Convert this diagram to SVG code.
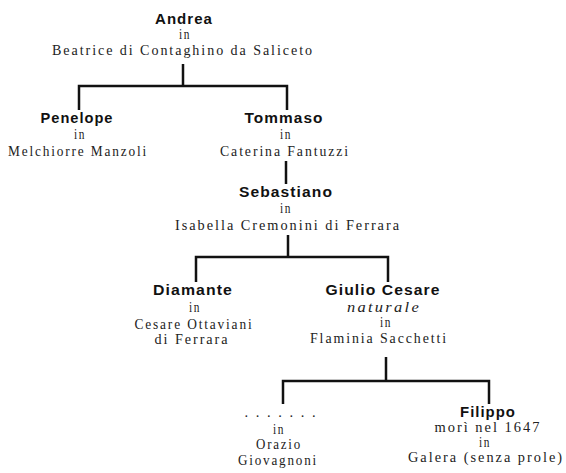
<svg xmlns="http://www.w3.org/2000/svg" width="566" height="473" viewBox="0 0 566 473">
<style>
.n{font-family:"Liberation Sans",Arial,sans-serif;font-weight:bold;font-size:14.5px;fill:#111;text-anchor:middle;letter-spacing:1px}
.s{font-family:"Liberation Serif","Times New Roman",serif;font-size:14.5px;fill:#222;text-anchor:middle;letter-spacing:2px}
.i{font-family:"Liberation Serif","Times New Roman",serif;font-size:14.5px;font-style:italic;fill:#222;text-anchor:middle;letter-spacing:2px}
.c{stroke:#111;stroke-width:2.5;fill:none;stroke-linecap:butt}
</style>
<rect width="566" height="473" fill="#fff"/>
<g id="connectors">
<path class="c" d="M183 64V86M79 110V86H287V110"/>
<path class="c" d="M286 161V184"/>
<path class="c" d="M288 235V257M196 282V257H388V282"/>
<path class="c" d="M386 357V381M283 404V381H489V404"/>
</g>
<g id="andrea">
<text class="n" x="184" y="24" textLength="58" lengthAdjust="spacingAndGlyphs">Andrea</text>
<text class="s" x="185" y="39" textLength="12" lengthAdjust="spacingAndGlyphs">in</text>
<text class="s" x="183" y="55" textLength="262" lengthAdjust="spacingAndGlyphs">Beatrice di Contaghino da Saliceto</text>
</g>
<g id="penelope">
<text class="n" x="77" y="123" textLength="73" lengthAdjust="spacingAndGlyphs">Penelope</text>
<text class="s" x="80" y="139" textLength="12" lengthAdjust="spacingAndGlyphs">in</text>
<text class="s" x="78" y="156" textLength="140" lengthAdjust="spacingAndGlyphs">Melchiorre Manzoli</text>
</g>
<g id="tommaso">
<text class="n" x="284" y="123" textLength="79" lengthAdjust="spacingAndGlyphs">Tommaso</text>
<text class="s" x="286" y="139" textLength="12" lengthAdjust="spacingAndGlyphs">in</text>
<text class="s" x="285" y="156" textLength="130" lengthAdjust="spacingAndGlyphs">Caterina Fantuzzi</text>
</g>
<g id="sebastiano">
<text class="n" x="286" y="197" textLength="94" lengthAdjust="spacingAndGlyphs">Sebastiano</text>
<text class="s" x="286" y="213" textLength="12" lengthAdjust="spacingAndGlyphs">in</text>
<text class="s" x="288" y="230" textLength="226" lengthAdjust="spacingAndGlyphs">Isabella Cremonini di Ferrara</text>
</g>
<g id="diamante">
<text class="n" x="193" y="295" textLength="80" lengthAdjust="spacingAndGlyphs">Diamante</text>
<text class="s" x="195" y="312" textLength="12" lengthAdjust="spacingAndGlyphs">in</text>
<text class="s" x="194" y="329" textLength="119" lengthAdjust="spacingAndGlyphs">Cesare Ottaviani</text>
<text class="s" x="192" y="344" textLength="75" lengthAdjust="spacingAndGlyphs">di Ferrara</text>
</g>
<g id="giulio-cesare">
<text class="n" x="383" y="295" textLength="115" lengthAdjust="spacingAndGlyphs">Giulio Cesare</text>
<text class="i" x="384" y="312" textLength="74" lengthAdjust="spacingAndGlyphs">naturale</text>
<text class="s" x="386" y="327" textLength="12" lengthAdjust="spacingAndGlyphs">in</text>
<text class="s" x="379" y="343" textLength="138" lengthAdjust="spacingAndGlyphs">Flaminia Sacchetti</text>
</g>
<g id="ignota">
<text class="s" x="281" y="417" textLength="73" lengthAdjust="spacing">. . . . . . .</text>
<text class="s" x="279" y="434" textLength="12" lengthAdjust="spacingAndGlyphs">in</text>
<text class="s" x="279" y="449" textLength="46" lengthAdjust="spacingAndGlyphs">Orazio</text>
<text class="s" x="278" y="465" textLength="80" lengthAdjust="spacingAndGlyphs">Giovagnoni</text>
</g>
<g id="filippo">
<text class="n" x="488" y="417" textLength="56" lengthAdjust="spacingAndGlyphs">Filippo</text>
<text class="s" x="488" y="432" textLength="107" lengthAdjust="spacingAndGlyphs">morì nel 1647</text>
<text class="s" x="485" y="447" textLength="12" lengthAdjust="spacingAndGlyphs">in</text>
<text class="s" x="486" y="462" textLength="156" lengthAdjust="spacingAndGlyphs">Galera (senza prole)</text>
</g>
</svg>
